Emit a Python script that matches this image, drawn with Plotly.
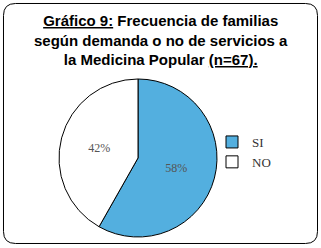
import plotly.graph_objects as go

labels = ["SI", "NO"]
values = [39, 28]
colors = ["#53AFDF", "#FFFFFF"]
title_lines = ["<u>Gráfico 9:</u> Frecuencia de familias",
               "según demanda o no de servicios a",
               "la Medicina Popular <u>(n=67).</u>"]

W, H = 321, 248
fig = go.Figure()
fig.add_trace(go.Pie(
    labels=labels, values=values, sort=False, direction="clockwise", rotation=0,
    marker=dict(colors=colors, line=dict(color="#000000", width=1)),
    texttemplate="%{percent:.0%}", textposition="inside",
    insidetextfont=dict(family="Liberation Serif", size=12, color="#555555"),
    domain=dict(x=[59/W, 217/W], y=[1-237/H, 1-79/H]),
    hoverinfo="label+percent", showlegend=True,
))

r = 12
x0, x1, y0, y1 = 3.5, 317.5, 3.5, 243.5
path = (f"M {x0+r},{y0} L {x1-r},{y0} Q {x1},{y0} {x1},{y0+r} L {x1},{y1-r} "
        f"Q {x1},{y1} {x1-r},{y1} L {x0+r},{y1} Q {x0},{y1} {x0},{y1-r} "
        f"L {x0},{y0+r} Q {x0},{y0} {x0+r},{y0} Z")

def conv(p):
    out = []
    for tok in p.split(" "):
        if "," in tok:
            a, b = tok.split(",")
            out.append(f"{float(a)/W:.5f},{1-float(b)/H:.5f}")
        else:
            out.append(tok)
    return " ".join(out)

fig.add_shape(type="path", path=conv(path), xref="paper", yref="paper",
              line=dict(color="#000000", width=1))

fig.add_annotation(text="<br>".join(title_lines), x=0.5, y=1-10/H, xref="paper", yref="paper",
                   xanchor="center", yanchor="top", showarrow=False, align="center",
                   font=dict(family="Liberation Sans", size=15, color="#000000", weight="bold"))

fig.update_layout(
    width=W, height=H, margin=dict(l=0, r=0, t=0, b=0),
    paper_bgcolor="#FFFFFF", plot_bgcolor="#FFFFFF",
    legend=dict(x=212/W, y=1-152/H, xanchor="left", yanchor="middle",
                font=dict(family="Liberation Serif", size=13, color="#333333"),
                bgcolor="rgba(0,0,0,0)", itemwidth=30),
)
fig.write_html("out.html", config={"displayModeBar": False},
               post_script="document.body.style.margin='0';document.body.style.overflow='hidden';")
